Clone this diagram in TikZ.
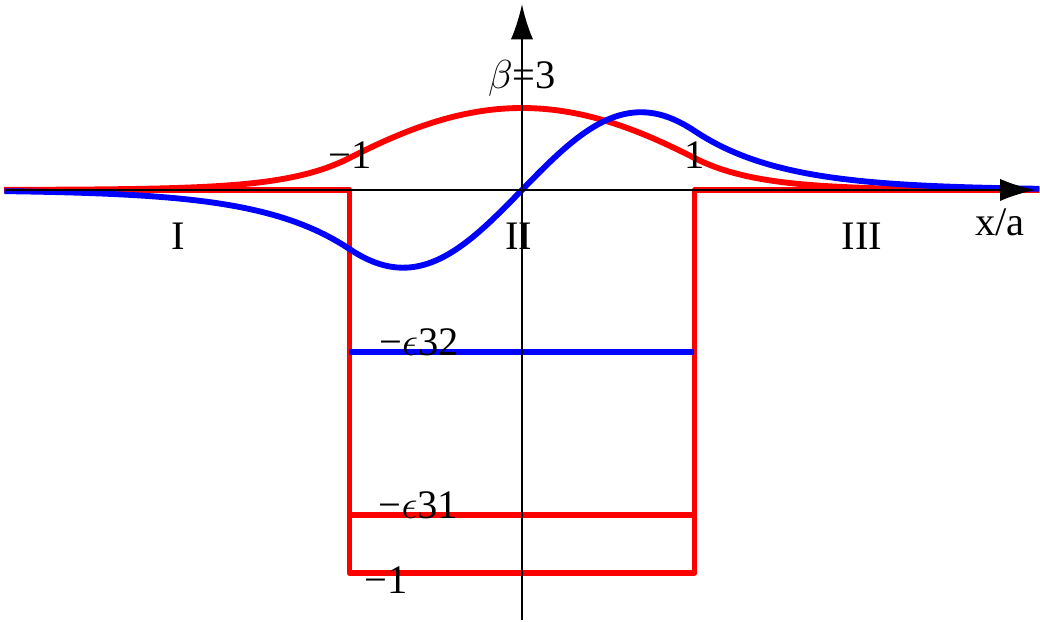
\documentclass[tikz,border=0pt]{standalone}
\usepackage{fontspec}
\setmainfont{Liberation Serif}
\usetikzlibrary{arrows.meta}

\begin{document}
\begin{tikzpicture}[x=2.5875cm,y=5.745cm,
  lbl/.style={font=\fontsize{17.28}{20}\selectfont,inner sep=0pt},
  curve/.style={line width=2.5pt,line join=round},
  axis/.style={line width=0.75pt,-{Latex[length=15pt,width=9.5pt]}}]
\useasboundingbox (-3.026,-1.128) rectangle (3.003,0.496);
% potential well and the two levels
\draw[red,curve] (-3,0) -- (-1,0) -- (-1,-1) -- (1,-1) -- (1,0) -- (3,0);
\draw[blue,curve] (-1,-0.423) -- (1,-0.423);
\draw[red,curve] (-1,-0.848) -- (1,-0.848);
% wave functions
\draw[red,curve] plot[domain=-3:-1,samples=60] (\x,{0.0835*exp(2.762*(\x+1))})
  -- plot[domain=-1:1,samples=80] (\x,{0.214*cos(1.170*\x r)})
  -- plot[domain=1:3,samples=60] (\x,{0.0835*exp(-2.762*(\x-1))});
\draw[blue,curve] plot[domain=-3:-1,samples=60] (\x,{-0.1542*exp(1.951*(\x+1))})
  -- plot[domain=-1:1,samples=80] (\x,{0.203*sin(2.279*\x r)})
  -- plot[domain=1:3,samples=60] (\x,{0.1542*exp(-1.951*(\x-1))});
% axes
\coordinate (xl) at (-2.99,0);
\coordinate (xr) at (2.975,0);
\coordinate (yb) at (0,-1.123);
\coordinate (yt) at (0,0.485);
\draw[axis] (xl) -- (xr);
\draw[axis] (yb) -- (yt);
% labels
\node[lbl] (beta) at (0,0.292) {$\beta$=3};
\node[lbl] (lm) at (-0.997,0.091) {−1};
\node[lbl] (lp) at (1,0.091) {1};
\node[lbl] (r1) at (-1.994,-0.120) {I};
\node[lbl] (r2) at (-0.02,-0.120) {II};
\node[lbl] (r3) at (1.971,-0.120) {III};
\node[lbl] (xa) at (2.771,-0.084) {x/a};
\node[lbl] (e32) at (-0.597,-0.399) {−$\epsilon$32};
\node[lbl] (e31) at (-0.60,-0.822) {−$\epsilon$31};
\node[lbl] (m1) at (-0.788,-1.018) {−1};
\end{tikzpicture}
\end{document}
